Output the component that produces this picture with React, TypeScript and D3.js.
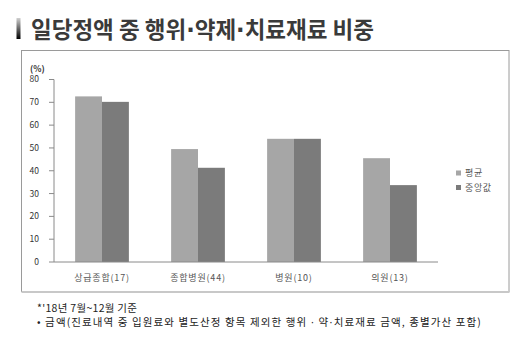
import React from "react";
import * as d3 from "d3";

const categories = ["상급종합(17)", "종합병원(44)", "병원(10)", "의원(13)"];
const seriesNames = ["평균", "중앙값"];
const avgValues = [72.6, 49.5, 54.0, 45.5];
const medianValues = [70.2, 41.3, 54.0, 33.7];
const yTicks = [0, 10, 20, 30, 40, 50, 60, 70, 80];
const colors = ["#a6a6a6", "#7b7b7b"];

const W = 530;
const H = 359;
const FONT = "'Noto Sans CJK KR', 'Noto Sans', sans-serif";
const DOT = "'DejaVu Sans', sans-serif";

export default function App() {
  const x0 = 54;
  const x1 = 438;
  const yTop = 79.5;
  const yBot = 262;
  const xBand = d3.scaleBand<string>().domain(categories).range([x0, x1]).paddingInner(0.44).paddingOuter(0.22);
  const xSub = d3.scaleBand<string>().domain(seriesNames).range([0, xBand.bandwidth()]);
  const y = d3.scaleLinear().domain([0, 80]).range([yBot, yTop]);
  const series = [avgValues, medianValues];

  return (
    <svg width={W} height={H} style={{ position: "absolute", left: 0, top: 0, background: "#fff" }}>
      <defs>
        <linearGradient id="ttl" x1="0" y1="0" x2="0" y2="1">
          <stop offset="0" stopColor="#d0d0d0" />
          <stop offset="1" stopColor="#000" />
        </linearGradient>
      </defs>
      <rect x={0} y={0} width={W} height={H} fill="#fff" />
      <rect x={16.5} y={18} width={4} height={21} fill="url(#ttl)" />
      <text x={31} y={37.5} fontFamily={FONT} fontWeight="bold" fontSize={22.5} fill="#3a3a3a">
        일당정액 중 행위<tspan fontFamily={DOT}>·</tspan>약제<tspan fontFamily={DOT}>·</tspan>치료재료 비중
      </text>
      {/* frame */}
      <rect x={21.5} y={50.5} width={487.5} height={241} fill="none" stroke="#9a9a9a" strokeWidth={1} />
      <line x1={21.5} x2={509.5} y1={292} y2={292} stroke="#c8c8c8" strokeWidth={2} />
      {/* bars */}
      {categories.map((c, i) => (
        <g key={c} transform={`translate(${xBand(c)},0)`}>
          {series.map((s, j) => (
            <rect
              key={j}
              x={xSub(seriesNames[j])}
              y={y(s[i])}
              width={xSub.bandwidth()}
              height={yBot - y(s[i])}
              fill={colors[j]}
            />
          ))}
        </g>
      ))}
      {/* y axis */}
      <line x1={x0} x2={x0} y1={yTop} y2={yBot} stroke="#8a8a8a" />
      {yTicks.map((t) => (
        <g key={t}>
          <line x1={x0 - 5} x2={x0} y1={y(t)} y2={y(t)} stroke="#8a8a8a" />
          <text x={39} y={y(t)} dy="0.35em" textAnchor="end" fontFamily={FONT} fontSize={8.5} fill="#333">
            {t}
          </text>
        </g>
      ))}
      <text x={30} y={72} fontFamily={FONT} fontSize={8.5} fontWeight="bold" fill="#333">(%)</text>
      {/* x axis */}
      <line x1={x0} x2={x1} y1={yBot} y2={yBot} stroke="#8a8a8a" />
      {categories.map((c) => (
        <text
          key={c}
          x={(xBand(c) as number) + xBand.bandwidth() / 2}
          y={278}
          dy="0.35em"
          textAnchor="middle"
          fontFamily={FONT}
          fontSize={9}
          letterSpacing={0.8}
          fill="#555"
        >
          {c}
        </text>
      ))}
      {/* legend */}
      {seriesNames.map((n, j) => (
        <g key={n} transform={`translate(456, ${173 + j * 14.5})`}>
          <rect x={0} y={-2.5} width={5} height={5} fill={colors[j]} />
          <text x={9} y={0} dy="0.35em" fontFamily={FONT} fontSize={9} letterSpacing={0.6} fill="#555">
            {n}
          </text>
        </g>
      ))}
      {/* footnotes */}
      <text x={37} y={308} dy="0.35em" fontFamily={FONT} fontSize={10.5} letterSpacing={0.3} fill="#222">
        *'18년 7월~12월 기준
      </text>
      <text x={37} y={322} dy="0.35em" fontFamily={FONT} fontSize={10.5} letterSpacing={1.1} fill="#222">
        • 금액(진료내역 중 입원료와 별도산정 항목 제외한 행위 <tspan fontFamily={DOT}>·</tspan> 약<tspan fontFamily={DOT}>·</tspan>치료재료 금액, 종별가산 포함)
      </text>
    </svg>
  );
}
